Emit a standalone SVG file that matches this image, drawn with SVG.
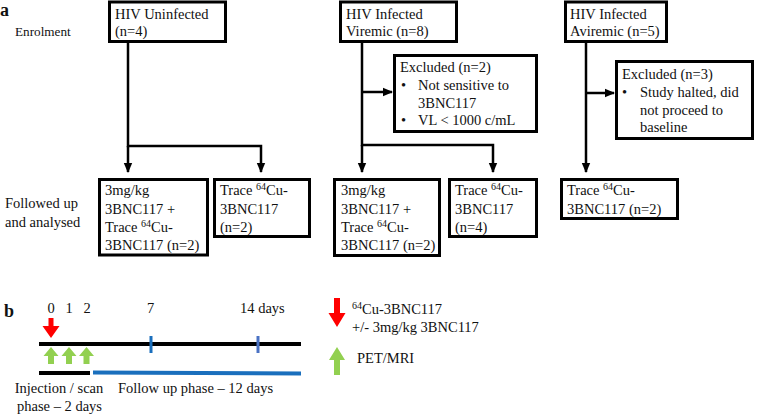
<svg xmlns="http://www.w3.org/2000/svg" width="760" height="415" viewBox="0 0 760 415">
<style>
  text { font-family: "Liberation Serif", "Times New Roman", serif; font-size: 14.5px; fill: #111; }
  .box { fill: #fff; stroke: #000; stroke-width: 3; }
  .con { fill: none; stroke: #000; stroke-width: 2.5; }
  .sup { font-size: 10px; }
  .lbl { font-weight: bold; font-size: 18px; }
</style>
<defs>
  <marker id="ah" markerUnits="userSpaceOnUse" markerWidth="10" markerHeight="10" viewBox="0 0 10 10" refX="9" refY="5" orient="auto">
    <path d="M0,0.8 L10,5 L0,9.2 Z" fill="#000"/>
  </marker>
</defs>
<rect width="760" height="415" fill="#fff"/>

<text class="lbl" x="0" y="16">a</text>
<text x="15" y="35.5" style="font-size:13.2px">Enrolment</text>
<text x="5" y="208">Followed up</text>
<text x="5" y="227">and analysed</text>

<g id="connectors">
  <path class="con" d="M128,43 V146 H261 V172" marker-end="url(#ah)"/>
  <path class="con" d="M128,146 V172" marker-end="url(#ah)"/>
  <path class="con" d="M362,43 V145 H493 V172" marker-end="url(#ah)"/>
  <path class="con" d="M362,145 V172" marker-end="url(#ah)"/>
  <path class="con" d="M362,92 H392" marker-end="url(#ah)"/>
  <path class="con" d="M586,43 V172" marker-end="url(#ah)"/>
  <path class="con" d="M586,93 H614" marker-end="url(#ah)"/>
</g>

<g id="uninfected">
  <rect class="box" x="109.5" y="2" width="116" height="39.5"/>
  <text x="115" y="18.5">HIV Uninfected</text>
  <text x="115" y="36">(n=4)</text>
</g>
<g id="viremic">
  <rect class="box" x="340.5" y="2" width="116" height="39.5"/>
  <text x="346" y="18.5">HIV Infected</text>
  <text x="346" y="36">Viremic (n=8)</text>
</g>
<g id="aviremic">
  <rect class="box" x="565.5" y="2" width="101" height="39.5"/>
  <text x="570" y="18.5">HIV Infected</text>
  <text x="570" y="36">Aviremic (n=5)</text>
</g>
<g id="excluded2">
  <rect class="box" x="394.5" y="55.5" width="142" height="76"/>
  <text x="400" y="72">Excluded (n=2)</text>
  <text x="401" y="90">•</text>
  <text x="418" y="90">Not sensitive to</text>
  <text x="418" y="107.5">3BNC117</text>
  <text x="401" y="125">•</text>
  <text x="418" y="125">VL &lt; 1000 c/mL</text>
</g>
<g id="excluded3">
  <rect class="box" x="616.5" y="61.5" width="136" height="77"/>
  <text x="622" y="79">Excluded (n=3)</text>
  <text x="622" y="97">•</text>
  <text x="640" y="97">Study halted, did</text>
  <text x="640" y="114.5">not proceed to</text>
  <text x="640" y="132">baseline</text>
</g>
<g id="u-combo">
  <rect class="box" x="99.5" y="179.5" width="108" height="75.5"/>
  <text x="105" y="195">3mg/kg</text>
  <text x="105" y="213.5">3BNC117 +</text>
  <text x="105" y="232">Trace <tspan class="sup" dy="-5">64</tspan><tspan dy="5">Cu-</tspan></text>
  <text x="105" y="250">3BNC117 (n=2)</text>
</g>
<g id="u-trace">
  <rect class="box" x="214.5" y="179.5" width="95" height="57"/>
  <text x="220" y="195">Trace <tspan class="sup" dy="-5">64</tspan><tspan dy="5">Cu-</tspan></text>
  <text x="220" y="213.5">3BNC117</text>
  <text x="220" y="232">(n=2)</text>
</g>
<g id="v-combo">
  <rect class="box" x="334.5" y="179.5" width="105" height="76"/>
  <text x="341" y="195">3mg/kg</text>
  <text x="341" y="213.5">3BNC117 +</text>
  <text x="341" y="232">Trace <tspan class="sup" dy="-5">64</tspan><tspan dy="5">Cu-</tspan></text>
  <text x="341" y="250">3BNC117 (n=2)</text>
</g>
<g id="v-trace">
  <rect class="box" x="449.5" y="179.5" width="87" height="57"/>
  <text x="455" y="195">Trace <tspan class="sup" dy="-5">64</tspan><tspan dy="5">Cu-</tspan></text>
  <text x="455" y="213.5">3BNC117</text>
  <text x="455" y="232">(n=4)</text>
</g>
<g id="a-trace">
  <rect class="box" x="561.5" y="179.5" width="116" height="39"/>
  <text x="567" y="195">Trace <tspan class="sup" dy="-5">64</tspan><tspan dy="5">Cu-</tspan></text>
  <text x="567" y="213.5">3BNC117 (n=2)</text>
</g>

<!-- Part b -->
<text class="lbl" x="4" y="317">b</text>
<text x="51" y="313" text-anchor="middle">0</text>
<text x="69" y="313" text-anchor="middle">1</text>
<text x="87" y="313" text-anchor="middle">2</text>
<text x="150.5" y="313" text-anchor="middle">7</text>
<text x="240" y="313">14 days</text>

<polygon points="48.5,318 53.5,318 53.5,326 59.5,326 51,338 42.5,326 48.5,326" fill="#ff0000"/>
<line x1="39" y1="344" x2="301" y2="344" stroke="#000" stroke-width="4"/>
<line x1="151" y1="336" x2="151" y2="353" stroke="#1a6fbd" stroke-width="3"/>
<line x1="258" y1="336" x2="258" y2="353" stroke="#4a72c4" stroke-width="3"/>
<polygon points="51,347 58.5,356 54,356 54,364 48,364 48,356 43.5,356" fill="#92d050"/>
<polygon points="69,347 76.5,356 72,356 72,364 66,364 66,356 61.5,356" fill="#92d050"/>
<polygon points="86.5,347 94,356 89.5,356 89.5,364 83.5,364 83.5,356 79,356" fill="#92d050"/>
<line x1="39" y1="373" x2="90" y2="373" stroke="#000" stroke-width="4"/>
<line x1="93" y1="372.5" x2="301" y2="373.5" stroke="#1a6fbd" stroke-width="4"/>
<text x="59" y="393" text-anchor="middle">Injection / scan</text>
<text x="59.5" y="411" text-anchor="middle">phase – 2 days</text>
<text x="118" y="393">Follow up phase – 12 days</text>

<polygon points="334,298 340,298 340,313 345.5,313 337,327 328.5,313 334,313" fill="#ff0000"/>
<text x="352" y="314"><tspan class="sup" dy="-5">64</tspan><tspan dy="5">Cu-3BNC117</tspan></text>
<text x="352" y="332">+/- 3mg/kg 3BNC117</text>
<polygon points="337,347 345,360 340,360 340,375 334,375 334,360 329,360" fill="#92d050"/>
<text x="357" y="363">PET/MRI</text>
</svg>
